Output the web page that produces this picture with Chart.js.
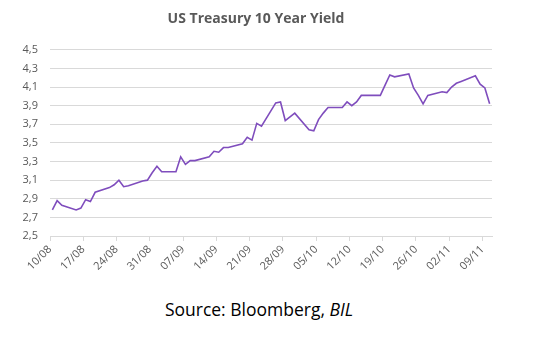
<!DOCTYPE html>
<html>
<head>
<meta charset="utf-8">
<script src="https://cdn.jsdelivr.net/npm/chart.js@4.4.0/dist/chart.umd.min.js"></script>
<style>
  body { margin: 0; background: #fff; }
  #wrap { position: absolute; left: 0; top: 0; width: 509px; height: 275px; }
  #source { position: absolute; left: 0; top: 297px; width: 518px; text-align: center;
            font-family: 'Open Sans', sans-serif; font-size: 17.5px; color: #000; }
</style>
</head>
<body>
<div id="wrap"><canvas id="yieldChart"></canvas></div>
<div id="source">Source: Bloomberg, <i>BIL</i></div>
<script>
// trading days (dd/mm, 2022) and 10y yield in %
const dates = ['10/08','11/08','12/08','15/08','16/08','17/08','18/08','19/08','22/08','23/08','24/08','25/08','26/08','29/08','30/08','31/08',
  '01/09','02/09','05/09','06/09','07/09','08/09','09/09','12/09','13/09','14/09','15/09','16/09','19/09','20/09','21/09','22/09','23/09','26/09','27/09','28/09','29/09','30/09',
  '03/10','04/10','05/10','06/10','07/10','10/10','11/10','12/10','13/10','14/10','17/10','18/10','19/10','20/10','21/10','24/10','25/10','26/10','27/10','28/10','31/10',
  '01/11','02/11','03/11','04/11','07/11','08/11','09/11','10/11'];
const yields = [2.78,2.88,2.83,2.78,2.80,2.89,2.87,2.97,3.02,3.05,3.10,3.03,3.04,3.09,3.10,3.18,
  3.25,3.19,3.19,3.35,3.27,3.31,3.31,3.35,3.41,3.40,3.45,3.45,3.49,3.56,3.53,3.71,3.68,3.93,3.94,3.74,3.78,3.82,
  3.64,3.63,3.75,3.82,3.88,3.88,3.94,3.90,3.94,4.01,4.01,4.01,4.12,4.23,4.21,4.24,4.09,4.01,3.92,4.01,4.05,
  4.04,4.10,4.14,4.16,4.22,4.13,4.09,3.92];
const tickLabels = ['10/08','17/08','24/08','31/08','07/09','14/09','21/09','28/09','05/10','12/10','19/10','26/10','02/11','09/11'];

// day number since the first date
function dayNo(s) {
  const [d, m] = s.split('/').map(Number);
  return (Date.UTC(2022, m - 1, d) - Date.UTC(2022, 7, 10)) / 86400000;
}

const points = dates.map((d, i) => ({ x: dayNo(d), y: yields[i] }));
const lastDay = dayNo(dates[dates.length - 1]);

const grey = '#595959';
const ctx = document.getElementById('yieldChart').getContext('2d');
new Chart(ctx, {
  type: 'line',
  data: {
    datasets: [{
      data: points,
      borderColor: '#7f4dbd',
      borderWidth: 1.6,
      pointRadius: 0,
      tension: 0
    }]
  },
  options: {
    responsive: true,
    maintainAspectRatio: false,
    animation: false,
    layout: { padding: { left: 20, right: 17, top: 0, bottom: 0 } },
    plugins: {
      legend: { display: false },
      tooltip: { enabled: false },
      title: {
        display: true,
        text: 'US Treasury 10 Year Yield',
        color: grey,
        font: { family: 'Open Sans', size: 14, weight: 'bold' },
        padding: { top: 11, bottom: 22 }
      }
    },
    scales: {
      x: {
        type: 'linear',
        min: -0.5,
        max: lastDay + 0.5,
        afterBuildTicks: (scale) => {
          scale.ticks = tickLabels.map((l, i) => ({ value: i * 7 - 0.5 }));
        },
        grid: { drawOnChartArea: false, drawTicks: true, tickLength: 5, color: '#d9d9d9' },
        border: { color: '#d9d9d9' },
        ticks: {
          autoSkip: false,
          minRotation: 45,
          maxRotation: 45,
          padding: 2,
          color: grey,
          font: { family: 'Open Sans', size: 11 },
          callback: (v, i) => tickLabels[i]
        }
      },
      y: {
        min: 2.5,
        max: 4.5,
        afterFit: (scale) => { scale.width = 30; },
        grid: { color: '#d9d9d9', drawTicks: false },
        border: { display: false },
        ticks: {
          stepSize: 0.2,
          padding: 12,
          color: grey,
          font: { family: 'Open Sans', size: 11 },
          callback: (v) => v.toFixed(1).replace('.', ',')
        }
      }
    }
  }
});
</script>
</body>
</html>
